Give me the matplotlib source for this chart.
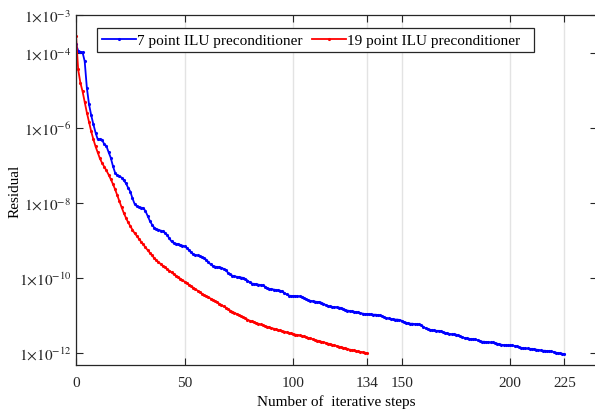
import numpy as np
import matplotlib.pyplot as plt

plt.rcParams['font.family'] = ['Liberation Serif', 'DejaVu Serif']
plt.rcParams['mathtext.fontset'] = 'stix'
plt.rcParams['font.size'] = 10.5

# log10 of residual per iteration
log_res_7pt = [
    -3.78, -3.95, -3.98, -3.99, -4.23, -4.94, -5.38, -5.67, -5.91, -6.13,
    -6.31, -6.31, -6.32, -6.44, -6.49, -6.65, -6.80, -7.02, -7.20, -7.27,
    -7.29, -7.33, -7.40, -7.48, -7.60, -7.70, -7.88, -8.03, -8.09, -8.11,
    -8.13, -8.14, -8.22, -8.35, -8.48, -8.58, -8.66, -8.70, -8.72, -8.74,
    -8.76, -8.80, -8.86, -8.95, -9.03, -9.07, -9.09, -9.10, -9.12, -9.14,
    -9.16, -9.20, -9.26, -9.32, -9.37, -9.39, -9.40, -9.42, -9.45, -9.47,
    -9.52, -9.58, -9.64, -9.68, -9.70, -9.71, -9.72, -9.73, -9.76, -9.80,
    -9.86, -9.91, -9.94, -9.96, -9.97, -9.98, -9.99, -10.00, -10.03, -10.07,
    -10.12, -10.15, -10.16, -10.17, -10.18, -10.19, -10.20, -10.23, -10.27, -10.29,
    -10.30, -10.31, -10.32, -10.33, -10.34, -10.36, -10.40, -10.44, -10.47, -10.48,
    -10.48, -10.48, -10.49, -10.49, -10.50, -10.53, -10.57, -10.60, -10.61, -10.62,
    -10.63, -10.64, -10.64, -10.66, -10.69, -10.72, -10.75, -10.76, -10.77, -10.78,
    -10.78, -10.79, -10.80, -10.82, -10.85, -10.87, -10.88, -10.89, -10.90, -10.91,
    -10.92, -10.94, -10.95, -10.96, -10.96, -10.97, -10.97, -10.98, -10.98, -10.99,
    -11.00, -11.02, -11.05, -11.07, -11.08, -11.09, -11.10, -11.11, -11.11, -11.12,
    -11.14, -11.17, -11.19, -11.21, -11.22, -11.22, -11.23, -11.23, -11.24, -11.26,
    -11.30, -11.34, -11.37, -11.38, -11.39, -11.40, -11.41, -11.41, -11.42, -11.44,
    -11.46, -11.48, -11.49, -11.50, -11.50, -11.51, -11.53, -11.56, -11.58, -11.60,
    -11.61, -11.62, -11.63, -11.63, -11.64, -11.66, -11.68, -11.70, -11.70, -11.71,
    -11.71, -11.72, -11.72, -11.73, -11.75, -11.77, -11.78, -11.79, -11.79, -11.80,
    -11.80, -11.80, -11.81, -11.82, -11.84, -11.86, -11.87, -11.88, -11.88, -11.89,
    -11.89, -11.90, -11.91, -11.92, -11.93, -11.94, -11.94, -11.95, -11.95, -11.96,
    -11.97, -11.99, -12.00, -12.01, -12.02, -12.03,
]

log_res_19pt = [
    -3.55, -4.45, -4.80, -5.03, -5.32, -5.60, -5.85, -6.10, -6.31, -6.50,
    -6.66, -6.82, -6.94, -7.04, -7.14, -7.25, -7.37, -7.50, -7.64, -7.80,
    -7.96, -8.12, -8.27, -8.40, -8.52, -8.62, -8.72, -8.81, -8.88, -8.96,
    -9.04, -9.11, -9.19, -9.26, -9.33, -9.40, -9.47, -9.53, -9.58, -9.63,
    -9.68, -9.72, -9.77, -9.81, -9.85, -9.90, -9.94, -9.98, -10.02, -10.06,
    -10.10, -10.14, -10.18, -10.22, -10.26, -10.30, -10.34, -10.38, -10.42, -10.46,
    -10.49, -10.52, -10.55, -10.58, -10.62, -10.65, -10.69, -10.72, -10.76, -10.79,
    -10.83, -10.87, -10.90, -10.93, -10.96, -10.99, -11.02, -11.05, -11.08, -11.11,
    -11.14, -11.16, -11.18, -11.20, -11.22, -11.24, -11.26, -11.28, -11.30, -11.32,
    -11.34, -11.35, -11.37, -11.39, -11.40, -11.42, -11.43, -11.45, -11.46, -11.48,
    -11.49, -11.51, -11.52, -11.53, -11.55, -11.56, -11.58, -11.60, -11.61, -11.63,
    -11.65, -11.67, -11.68, -11.70, -11.71, -11.73, -11.75, -11.76, -11.78, -11.80,
    -11.81, -11.83, -11.84, -11.86, -11.87, -11.89, -11.91, -11.92, -11.93, -11.95,
    -11.96, -11.97, -11.98, -11.99, -12.00,
]

x_ticks = [0, 50, 100, 134, 150, 200, 225]
y_ticks = [1e-3, 1e-4, 1e-6, 1e-8, 1e-10, 1e-12]
y_ticklabels = [r'$1{\times}10^{-3}$', r'$1{\times}10^{-4}$', r'$1{\times}10^{-6}$',
                r'$1{\times}10^{-8}$', r'$1{\times}10^{-10}$', r'$1{\times}10^{-12}$']

res7 = 10.0 ** np.array(log_res_7pt)
res19 = 10.0 ** np.array(log_res_19pt)
it7 = np.arange(len(res7))
it19 = np.arange(len(res19))

fig = plt.figure(figsize=(5.95, 4.10), dpi=100)
ax = fig.add_axes([76/595, 1-366/410, 521/595, 350/410])

ax.semilogy(it7, res7, '-', color='#0000ff', lw=1.3, marker='.', ms=2.5,
            label='7 point ILU preconditioner')
ax.semilogy(it19, res19, '-', color='#ff0000', lw=1.3, marker='.', ms=2.5,
            label='19 point ILU preconditioner  ')

ax.set_xlim(0, 240)
ax.set_ylim(10**-12.32, 1e-3)
ax.set_xticks(x_ticks)
ax.set_yticks(y_ticks)
ax.set_yticklabels(y_ticklabels)
ax.yaxis.set_minor_locator(plt.NullLocator())
ax.tick_params(direction='in', top=True, right=True, length=5, width=0.8,
               labelsize=11, colors='#262626')
ax.tick_params(axis='x', pad=8)
ax.grid(axis='x', color='#e3e3e3', lw=1)
for s in ax.spines.values():
    s.set_color('#262626')
    s.set_linewidth(0.9)
ax.spines['right'].set_visible(False)

ax.set_xlabel('Number of  iterative steps', fontsize=11, labelpad=4)
ax.set_ylabel('Residual', fontsize=11)
ax.yaxis.set_label_coords(-54/521, 0.5)

leg = ax.legend(loc='upper left', bbox_to_anchor=(21/521, 1-13/350), ncol=2,
                borderaxespad=0, fancybox=False, edgecolor='#262626', framealpha=1,
                handlelength=2.2, handletextpad=0.1, columnspacing=0.6,
                borderpad=0.35, fontsize=11)
leg.get_frame().set_linewidth(0.9)

fig.savefig('out.png', dpi=100)
